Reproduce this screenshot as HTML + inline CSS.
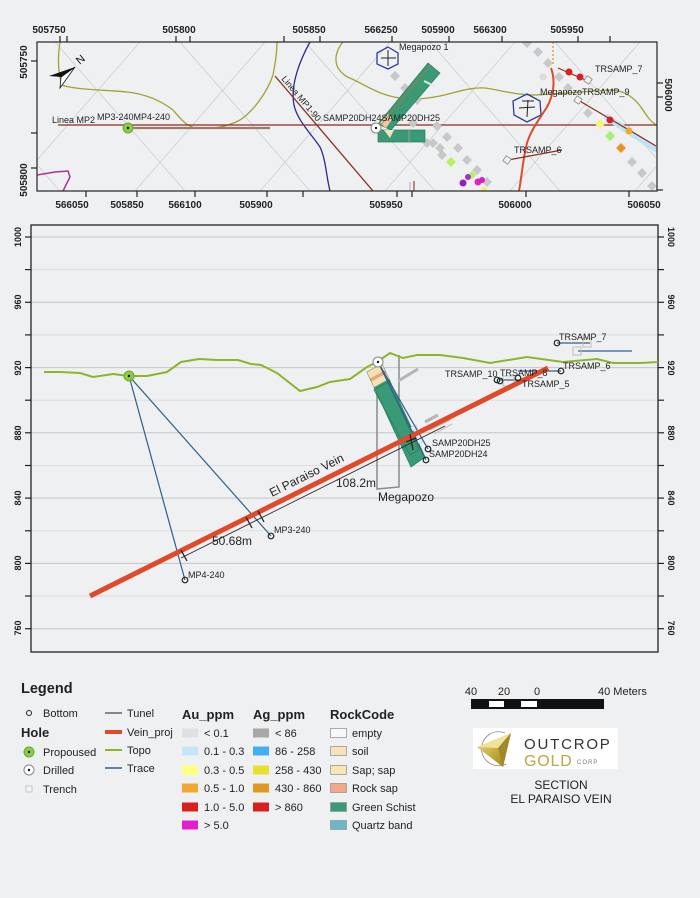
<!DOCTYPE html>
<html><head><meta charset="utf-8"><style>
html,body{margin:0;padding:0;background:#eff0f2;}
svg{display:block;font-family:"Liberation Sans",Arial,sans-serif;}
</style></head><body>
<svg width="700" height="898" viewBox="0 0 700 898" xmlns="http://www.w3.org/2000/svg">
<rect width="700" height="898" fill="#eff0f2"/>
<defs>
<clipPath id="mc"><rect x="37" y="42" width="620" height="149"/></clipPath>
<linearGradient id="gold" x1="0" y1="0" x2="1" y2="1"><stop offset="0" stop-color="#efe08a"/><stop offset="0.5" stop-color="#c9b043"/><stop offset="1" stop-color="#8f7a22"/></linearGradient>
</defs>

<!-- ================= TOP MAP ================= -->
<g clip-path="url(#mc)">
 <g stroke="#c9cacc" stroke-width="0.7" fill="none">
  <line x1="55" y1="42" x2="185" y2="191"/><line x1="180" y1="42" x2="310" y2="191"/>
  <line x1="305" y1="42" x2="435" y2="191"/><line x1="430" y1="42" x2="560" y2="191"/>
  <line x1="555" y1="42" x2="685" y2="191"/><line x1="-70" y1="42" x2="60" y2="191"/>
  <line x1="10" y1="191" x2="140" y2="42"/><line x1="135" y1="191" x2="265" y2="42"/>
  <line x1="260" y1="191" x2="390" y2="42"/><line x1="385" y1="191" x2="515" y2="42"/>
  <line x1="510" y1="191" x2="640" y2="42"/><line x1="635" y1="191" x2="765" y2="42"/>
 </g>
 <!-- contours -->
 <path d="M60,42 C58,55 57,70 62,85 C75,90 110,90 127,92 C145,94 160,100 173,110 C180,118 185,125 195,128 C210,129 225,128 240,120 C255,110 268,90 273,75 C276,60 277,50 277,42" stroke="#a3a133" stroke-width="1.3" fill="none"/>
 <path d="M343,42 C336,50 334,60 338,68 C342,74 346,77 352,79 C365,85 375,92 390,96 C405,100 420,100 440,96 C458,92 470,87 485,88 C500,90 515,95 535,95 C555,94 580,92 610,90 C625,90 635,98 643,110 C648,118 652,123 657,125" stroke="#a3a133" stroke-width="1.3" fill="none"/>
 <path d="M310,42 C300,60 290,85 294,105 C297,120 312,135 320,147 C326,160 326,175 330,191" stroke="#2a2a8f" stroke-width="1.3" fill="none"/>
 <path d="M37,175 L55,172 L68,171 L70,177 L63,191" stroke="#b0309a" stroke-width="1.5" fill="none"/>
 <!-- lines -->
 <line x1="58" y1="125" x2="657" y2="125" stroke="#8b2e1e" stroke-width="1.3"/>
 <line x1="130" y1="128" x2="270" y2="128" stroke="#a07a68" stroke-width="2.2"/>
 <line x1="275" y1="76" x2="373" y2="191" stroke="#8b2e1e" stroke-width="1.3"/>
 <line x1="414" y1="181" x2="414" y2="191" stroke="#a04030" stroke-width="1.2"/>
 <line x1="410" y1="182" x2="410" y2="191" stroke="#bbbbbb" stroke-width="1.2"/>
 <!-- grey diamonds -->
 <g fill="#c8c8c8">
  <rect x="-3.5" y="-3.5" width="7" height="7" transform="translate(395,76) rotate(45)"/>
  <rect x="-3.5" y="-3.5" width="7" height="7" transform="translate(405,88) rotate(45)"/>
  <rect x="-3.5" y="-3.5" width="7" height="7" transform="translate(417,100) rotate(45)"/>
  <rect x="-3.5" y="-3.5" width="7" height="7" transform="translate(427,82) rotate(45)"/>
  <rect x="-3.5" y="-3.5" width="7" height="7" transform="translate(413,123) rotate(45)"/>
  <rect x="-3.5" y="-3.5" width="7" height="7" transform="translate(437,126) rotate(45)"/>
  <rect x="-3.5" y="-3.5" width="7" height="7" transform="translate(427,143) rotate(45)"/>
  <rect x="-3.5" y="-3.5" width="7" height="7" transform="translate(433,143) rotate(45)"/>
  <rect x="-3.5" y="-3.5" width="7" height="7" transform="translate(440,148) rotate(45)"/>
  <rect x="-3.5" y="-3.5" width="7" height="7" transform="translate(447,137) rotate(45)"/>
  <rect x="-3.5" y="-3.5" width="7" height="7" transform="translate(442,155) rotate(45)"/>
  <rect x="-3.5" y="-3.5" width="7" height="7" transform="translate(458,148) rotate(45)"/>
  <rect x="-3.5" y="-3.5" width="7" height="7" transform="translate(467,160) rotate(45)"/>
  <rect x="-3.5" y="-3.5" width="7" height="7" transform="translate(477,170) rotate(45)"/>
  <rect x="-3.5" y="-3.5" width="7" height="7" transform="translate(487,182) rotate(45)"/>
  <rect x="-3.5" y="-3.5" width="7" height="7" transform="translate(527,43) rotate(45)"/>
  <rect x="-3.5" y="-3.5" width="7" height="7" transform="translate(538,52) rotate(45)"/>
  <rect x="-3.5" y="-3.5" width="7" height="7" transform="translate(548,63) rotate(45)"/>
  <rect x="-3.5" y="-3.5" width="7" height="7" transform="translate(559,77) rotate(45)"/>
  <rect x="-3.5" y="-3.5" width="7" height="7" transform="translate(568,88) rotate(45)"/>
  <rect x="-3.5" y="-3.5" width="7" height="7" transform="translate(588,113) rotate(45)"/>
  <rect x="-3.5" y="-3.5" width="7" height="7" transform="translate(632,162) rotate(45)"/>
  <rect x="-3.5" y="-3.5" width="7" height="7" transform="translate(642,173) rotate(45)"/>
  <rect x="-3.5" y="-3.5" width="7" height="7" transform="translate(652,186) rotate(45)"/>
 </g>
 <circle cx="543" cy="77" r="3.5" fill="#dcdcdc"/>
 <!-- core in map -->
 <polygon points="378,124 428,63 440,73 391,130" fill="#3a9a78" stroke="#2d7d60" stroke-width="0.7"/>
 <polygon points="378,130 425,130 425,142 378,142" fill="#3a9a78" stroke="#2d7d60" stroke-width="0.7"/>
 <line x1="409" y1="130" x2="409" y2="142" stroke="#999" stroke-width="1"/>
 <polygon points="380,123 388,114 393,118 386,128" fill="#f2c9a0"/>
 <polygon points="384,130 394,130 390,138" fill="#f4e3b6"/>
 <line x1="424" y1="81" x2="434" y2="86" stroke="#e8e8e8" stroke-width="2"/>
 <line x1="381" y1="125" x2="430" y2="66" stroke="#c07040" stroke-width="0.8"/>
 <!-- hexagons -->
 <polygon points="388,47 398,53 398,64 388,69 377,64 377,53" fill="none" stroke="#2c3d9a" stroke-width="1.3"/>
 <line x1="381" y1="58" x2="396" y2="58" stroke="#222" stroke-width="1"/><line x1="388" y1="50" x2="388" y2="66" stroke="#222" stroke-width="1"/>
 <polygon points="527,94 540,101 541,115 527,122 514,115 513,101" fill="none" stroke="#2c3d9a" stroke-width="1.3"/>
 <line x1="519" y1="108" x2="535" y2="107" stroke="#222" stroke-width="1"/><line x1="528" y1="100" x2="527" y2="117" stroke="#222" stroke-width="1"/><line x1="522" y1="101" x2="534" y2="101" stroke="#222" stroke-width="1"/>
 <!-- river -->
 <path d="M551,68 C556,82 553,96 547,107 C540,118 531,130 527,143 C523,158 522,175 519,191" stroke="#e04a2a" stroke-width="2" fill="none"/>
 <line x1="553" y1="42" x2="553" y2="66" stroke="#f0a030" stroke-width="1.5" stroke-dasharray="2,2"/>
 <!-- TRSAMP_7 -->
 <line x1="558" y1="68" x2="590" y2="82" stroke="#8b2e1e" stroke-width="1.2"/>
 <circle cx="569" cy="72" r="3.5" fill="#d82020"/><circle cx="580" cy="77" r="3.5" fill="#d82020"/>
 <rect x="-3" y="-3" width="6" height="6" transform="translate(588,80) rotate(35)" fill="#f4f4f4" stroke="#888" stroke-width="0.8"/>
 <!-- TRSAMP_9 cluster -->
 <line x1="605" y1="116" x2="657" y2="150" stroke="#bfe3f5" stroke-width="6"/>
 <line x1="578" y1="100" x2="656" y2="146" stroke="#8b2e1e" stroke-width="1.2"/>
 <rect x="-3" y="-3" width="6" height="6" transform="translate(578,100) rotate(35)" fill="#f4f4f4" stroke="#888" stroke-width="0.8"/>
 <rect x="-3.5" y="-3.5" width="7" height="7" transform="translate(600,124) rotate(45)" fill="#f8f27a"/>
 <circle cx="610" cy="120" r="3.5" fill="#d82020"/>
 <rect x="-3.5" y="-3.5" width="7" height="7" transform="translate(610,136) rotate(45)" fill="#a8f070"/>
 <rect x="-3.5" y="-3.5" width="7" height="7" transform="translate(621,148) rotate(45)" fill="#f09020"/>
 <circle cx="629" cy="131" r="3.5" fill="#f0a830"/>
 <!-- TRSAMP_6 -->
 <line x1="508" y1="160" x2="562" y2="150" stroke="#8b2e1e" stroke-width="1.2"/>
 <rect x="-3" y="-3" width="6" height="6" transform="translate(507,160) rotate(35)" fill="#f4f4f4" stroke="#888" stroke-width="0.8"/>
 <!-- colored samples -->
 <rect x="-3.5" y="-3.5" width="7" height="7" transform="translate(451,162) rotate(45)" fill="#b8f060"/>
 <rect x="-3" y="-3" width="6" height="6" transform="translate(472,175) rotate(45)" fill="#b8f060"/>
 <circle cx="463" cy="183" r="3.5" fill="#9020c0"/><circle cx="468" cy="177" r="3" fill="#a030d0"/>
 <circle cx="478" cy="182" r="3.5" fill="#e020c0"/><circle cx="482" cy="180" r="3" fill="#d020c0"/>
 <circle cx="484" cy="190" r="3" fill="#f0f060"/>
 <!-- holes -->
 <circle cx="128" cy="128" r="5" fill="#8ccc40" stroke="#6aa830" stroke-width="1"/><circle cx="128" cy="128" r="1.2" fill="#111"/>
 <circle cx="376" cy="128" r="5" fill="#fff" stroke="#888" stroke-width="1"/><circle cx="376" cy="128" r="1.2" fill="#111"/>
 <!-- north arrow -->
 <polygon points="75,67 49,76 61,77" fill="#111"/>
 <polygon points="75,67 61,77 60,88" fill="#fff" stroke="#111" stroke-width="0.8"/>
 <text x="78" y="64" font-size="11" fill="#111" transform="rotate(-40 80 62)">N</text>
 <!-- labels -->
 <g font-size="9" fill="#222">
  <text x="52" y="123">Linea MP2</text>
  <text x="97" y="120">MP3-240MP4-240</text>
  <text x="323" y="121">SAMP20DH24SAMP20DH25</text>
  <text x="399" y="50">Megapozo 1</text>
  <text x="540" y="95">MegapozoTRSAMP_9</text>
  <text x="595" y="72">TRSAMP_7</text>
  <text x="514" y="153">TRSAMP_6</text>
  <text x="281" y="79" transform="rotate(50 281 79)">Linea MP1-90</text>
 </g>
</g>
<rect x="37" y="42" width="620" height="149" fill="none" stroke="#333" stroke-width="1.3"/>
<!-- map ticks -->
<g stroke="#222" stroke-width="1.2">
 <line x1="60" y1="36" x2="60" y2="42"/><line x1="67" y1="36" x2="67" y2="42"/><line x1="176" y1="36" x2="176" y2="42"/><line x1="190" y1="36" x2="190" y2="42"/><line x1="284" y1="36" x2="284" y2="42"/><line x1="320" y1="36" x2="320" y2="42"/><line x1="392" y1="36" x2="392" y2="42"/><line x1="449" y1="36" x2="449" y2="42"/><line x1="502" y1="36" x2="502" y2="42"/><line x1="578" y1="36" x2="578" y2="42"/><line x1="610" y1="36" x2="610" y2="42"/>
 <line x1="86" y1="191" x2="86" y2="197"/><line x1="137" y1="191" x2="137" y2="197"/><line x1="195" y1="191" x2="195" y2="197"/><line x1="267" y1="191" x2="267" y2="197"/><line x1="303" y1="191" x2="303" y2="197"/><line x1="397" y1="191" x2="397" y2="197"/><line x1="412" y1="191" x2="412" y2="197"/><line x1="526" y1="191" x2="526" y2="197"/><line x1="629" y1="191" x2="629" y2="197"/>
 <line x1="31" y1="61" x2="37" y2="61"/><line x1="31" y1="133" x2="37" y2="133"/><line x1="31" y1="168" x2="37" y2="168"/>
 <line x1="657" y1="83" x2="663" y2="83"/><line x1="657" y1="97" x2="663" y2="97"/><line x1="657" y1="190" x2="663" y2="190"/>
</g>
<g font-size="10" font-weight="bold" fill="#222" text-anchor="middle">
 <text x="49" y="33">505750</text><text x="179" y="33">505800</text><text x="309" y="33">505850</text><text x="381" y="33">566250</text><text x="438" y="33">505900</text><text x="490" y="33">566300</text><text x="567" y="33">505950</text>
 <text x="72" y="208">566050</text><text x="127" y="208">505850</text><text x="185" y="208">566100</text><text x="256" y="208">505900</text><text x="386" y="208">505950</text><text x="515" y="208">506000</text><text x="644" y="208">506050</text>
 <text x="0" y="0" transform="translate(27,62) rotate(-90)">505750</text>
 <text x="0" y="0" transform="translate(27,180) rotate(-90)">505800</text>
 <text x="0" y="0" transform="translate(665,95) rotate(90)">506000</text>
</g>

<!-- ================= SECTION ================= -->
<g stroke-width="1">
 <line x1="31" y1="237" x2="658" y2="237" stroke="#c4c6c8"/>
 <line x1="31" y1="269.6" x2="658" y2="269.6" stroke="#dcdde0"/>
 <line x1="31" y1="302.3" x2="658" y2="302.3" stroke="#c4c6c8"/>
 <line x1="31" y1="334.9" x2="658" y2="334.9" stroke="#dcdde0"/>
 <line x1="31" y1="367.6" x2="658" y2="367.6" stroke="#c4c6c8"/>
 <line x1="31" y1="400.2" x2="658" y2="400.2" stroke="#dcdde0"/>
 <line x1="31" y1="432.8" x2="658" y2="432.8" stroke="#c4c6c8"/>
 <line x1="31" y1="465.5" x2="658" y2="465.5" stroke="#dcdde0"/>
 <line x1="31" y1="498.1" x2="658" y2="498.1" stroke="#c4c6c8"/>
 <line x1="31" y1="530.8" x2="658" y2="530.8" stroke="#dcdde0"/>
 <line x1="31" y1="563.4" x2="658" y2="563.4" stroke="#c4c6c8"/>
 <line x1="31" y1="596" x2="658" y2="596" stroke="#dcdde0"/>
 <line x1="31" y1="628.7" x2="658" y2="628.7" stroke="#c4c6c8"/>
</g>
<rect x="31" y="225" width="627" height="427" fill="none" stroke="#222" stroke-width="1.3"/>
<g stroke="#222" stroke-width="1.2">
 <line x1="25" y1="237" x2="31" y2="237"/><line x1="25" y1="269.6" x2="31" y2="269.6"/><line x1="25" y1="302.3" x2="31" y2="302.3"/><line x1="25" y1="334.9" x2="31" y2="334.9"/><line x1="25" y1="367.6" x2="31" y2="367.6"/><line x1="25" y1="400.2" x2="31" y2="400.2"/><line x1="25" y1="432.8" x2="31" y2="432.8"/><line x1="25" y1="465.5" x2="31" y2="465.5"/><line x1="25" y1="498.1" x2="31" y2="498.1"/><line x1="25" y1="530.8" x2="31" y2="530.8"/><line x1="25" y1="563.4" x2="31" y2="563.4"/><line x1="25" y1="596" x2="31" y2="596"/><line x1="25" y1="628.7" x2="31" y2="628.7"/>
 <line x1="658" y1="237" x2="664" y2="237"/><line x1="658" y1="269.6" x2="664" y2="269.6"/><line x1="658" y1="302.3" x2="664" y2="302.3"/><line x1="658" y1="334.9" x2="664" y2="334.9"/><line x1="658" y1="367.6" x2="664" y2="367.6"/><line x1="658" y1="400.2" x2="664" y2="400.2"/><line x1="658" y1="432.8" x2="664" y2="432.8"/><line x1="658" y1="465.5" x2="664" y2="465.5"/><line x1="658" y1="498.1" x2="664" y2="498.1"/><line x1="658" y1="530.8" x2="664" y2="530.8"/><line x1="658" y1="563.4" x2="664" y2="563.4"/><line x1="658" y1="596" x2="664" y2="596"/><line x1="658" y1="628.7" x2="664" y2="628.7"/>
</g>
<g font-size="9" font-weight="bold" fill="#222" text-anchor="middle">
 <text transform="translate(21,237) rotate(-90)">1000</text>
 <text transform="translate(21,302) rotate(-90)">960</text>
 <text transform="translate(21,368) rotate(-90)">920</text>
 <text transform="translate(21,433) rotate(-90)">880</text>
 <text transform="translate(21,498) rotate(-90)">840</text>
 <text transform="translate(21,563) rotate(-90)">800</text>
 <text transform="translate(21,628) rotate(-90)">760</text>
 <text transform="translate(668,237) rotate(90)">1000</text>
 <text transform="translate(668,302) rotate(90)">960</text>
 <text transform="translate(668,368) rotate(90)">920</text>
 <text transform="translate(668,433) rotate(90)">880</text>
 <text transform="translate(668,498) rotate(90)">840</text>
 <text transform="translate(668,563) rotate(90)">800</text>
 <text transform="translate(668,628) rotate(90)">760</text>
</g>

<!-- megapozo rect -->
<polyline points="377,367 377,489 399,487 399,355" fill="none" stroke="#8a8a8a" stroke-width="1.5"/>
<!-- tunnel grey lines -->
<line x1="398" y1="381" x2="418" y2="369" stroke="#b4b4b4" stroke-width="3"/>
<line x1="425" y1="422" x2="438" y2="415" stroke="#b4b4b4" stroke-width="3"/>
<line x1="430" y1="430" x2="450" y2="420" stroke="#c4c4c4" stroke-width="1.5"/>
<line x1="434" y1="434" x2="452" y2="424" stroke="#c4c4c4" stroke-width="1.2"/>
<!-- core -->
<polygon points="367,372 382,364 425,457 411,467" fill="#3a9a78" stroke="#2d7d60" stroke-width="0.8"/>
<polygon points="374,390 388,382 419,450 410,455" fill="none" stroke="#2d7d60" stroke-width="0.8"/>
<polygon points="367,372 382,364 385,370.5 370.1,378.7" fill="#f6dfb0"/>
<polygon points="370.1,378.7 385,370.5 386.3,373.3 371.4,381.5" fill="#eda47e"/>
<polygon points="371.4,381.5 386.3,373.3 388.9,378.9 374,387.2" fill="#f6e2b4"/>
<rect x="-3" y="-2" width="6" height="4" transform="translate(414,428) rotate(-25)" fill="#dff0f8" stroke="#8cc" stroke-width="0.5"/>
<rect x="-3" y="-2" width="6" height="4" transform="translate(420,441) rotate(-25)" fill="#dff0f8" stroke="#8cc" stroke-width="0.5"/>
<!-- topo -->
<polyline points="44,372 60,372 80,373 93,377 113,374 129,376 147,376 167,372 181,362 199,359 217,360 238,360 251,364 261,365 277,373 300,391 317,387 330,382 350,379 360,372 367,367 377,362 390,353 403,358 417,355 440,355 463,358 490,363 527,357 563,362 597,359 613,363 640,363 658,362" fill="none" stroke="#8db52a" stroke-width="2"/>
<!-- traces -->
<g stroke="#2e5f8a" stroke-width="1.2" fill="none">
 <line x1="129" y1="376" x2="185" y2="580"/>
 <line x1="129" y1="376" x2="271" y2="536"/>
 <line x1="378" y1="362" x2="428" y2="449"/>
 <line x1="378" y1="362" x2="426" y2="460"/>
 <line x1="557" y1="343" x2="590" y2="343"/>
 <line x1="578" y1="351" x2="632" y2="351"/>
 <line x1="518" y1="371" x2="561" y2="371"/>
 <line x1="500" y1="380" x2="520" y2="380"/>
</g>
<g fill="none" stroke="#bbb" stroke-width="1">
 <rect x="583" y="338" width="8" height="9"/>
 <rect x="573" y="347" width="8" height="8"/>
 <rect x="503" y="376" width="11" height="10"/>
</g>
<!-- vein -->
<line x1="90" y1="596" x2="548" y2="368" stroke="#e04a2a" stroke-width="5"/>
<!-- measurement -->
<g stroke="#222" stroke-width="1">
 <line x1="181" y1="558" x2="445" y2="426" stroke-width="0.8"/>
 <line x1="181" y1="550" x2="187" y2="561" stroke-width="1.3"/>
 <line x1="246" y1="517" x2="252" y2="528" stroke-width="1.3"/>
 <line x1="258" y1="511" x2="264" y2="522" stroke-width="1.3"/>
 <line x1="406" y1="442" x2="416" y2="438" stroke-width="1.3"/>
 <line x1="410" y1="434" x2="413" y2="450" stroke-width="1.3"/>
</g>
<!-- bottoms -->
<g fill="none" stroke="#222" stroke-width="1.2">
 <circle cx="185" cy="580" r="2.8"/><circle cx="271" cy="536" r="2.8"/>
 <circle cx="428" cy="449" r="2.8"/><circle cx="426" cy="460" r="2.8"/>
 <circle cx="557" cy="343" r="2.8"/><circle cx="561" cy="371" r="2.8"/>
 <circle cx="497" cy="380" r="2.8"/><circle cx="500" cy="381" r="2.8"/><circle cx="518" cy="378" r="2.8"/>
</g>
<!-- holes -->
<circle cx="129" cy="376" r="5" fill="#8ccc40" stroke="#6aa830" stroke-width="1"/><circle cx="129" cy="376" r="1.2" fill="#111"/>
<circle cx="378" cy="362" r="5" fill="#fff" stroke="#888" stroke-width="1"/><circle cx="378" cy="362" r="1.2" fill="#111"/>
<!-- section labels -->
<g font-size="9" fill="#222">
 <text x="188" y="578">MP4-240</text>
 <text x="274" y="533">MP3-240</text>
 <text x="432" y="446">SAMP20DH25</text>
 <text x="429" y="457">SAMP20DH24</text>
 <text x="559" y="340">TRSAMP_7</text>
 <text x="563" y="369">TRSAMP_6</text>
 <text x="445" y="377">TRSAMP_10</text>
 <text x="500" y="376">TRSAMP_8</text>
 <text x="522" y="387">TRSAMP_5</text>
</g>
<g font-size="12" fill="#222">
 <text x="212" y="545">50.68m</text>
 <text x="336" y="487">108.2m</text>
 <text x="378" y="501">Megapozo</text>
 <text x="272" y="497" transform="rotate(-26.6 272 497)">El Paraiso Vein</text>
</g>

<!-- ================= LEGEND ================= -->
<g fill="#222">
 <text x="21" y="693" font-size="14.5" font-weight="bold">Legend</text>
 <text x="21" y="737" font-size="13" font-weight="bold">Hole</text>
 <g font-size="11">
  <text x="43" y="717">Bottom</text>
  <text x="43" y="756">Propoused</text>
  <text x="43" y="774">Drilled</text>
  <text x="43" y="793">Trench</text>
  <text x="127" y="717">Tunel</text>
  <text x="127" y="736">Vein_proj</text>
  <text x="127" y="754">Topo</text>
  <text x="127" y="772">Trace</text>
 </g>
 <text x="182" y="719" font-size="13" font-weight="bold">Au_ppm</text>
 <text x="253" y="719" font-size="13" font-weight="bold">Ag_ppm</text>
 <text x="330" y="719" font-size="13" font-weight="bold">RockCode</text>
 <g font-size="11">
  <text x="204" y="737">&lt; 0.1</text>
  <text x="204" y="755">0.1 - 0.3</text>
  <text x="204" y="774">0.3 - 0.5</text>
  <text x="204" y="792">0.5 - 1.0</text>
  <text x="204" y="811">1.0 - 5.0</text>
  <text x="204" y="829">&gt; 5.0</text>
  <text x="275" y="737">&lt; 86</text>
  <text x="275" y="755">86 - 258</text>
  <text x="275" y="774">258 - 430</text>
  <text x="275" y="792">430 - 860</text>
  <text x="275" y="811">&gt; 860</text>
  <text x="352" y="737">empty</text>
  <text x="352" y="755">soil</text>
  <text x="352" y="774">Sap; sap</text>
  <text x="352" y="792">Rock sap</text>
  <text x="352" y="811">Green Schist</text>
  <text x="352" y="829">Quartz band</text>
 </g>
</g>
<circle cx="29" cy="713" r="2.5" fill="none" stroke="#222" stroke-width="1"/>
<circle cx="29" cy="752" r="5" fill="#8ccc40" stroke="#6aa830" stroke-width="1"/><circle cx="29" cy="752" r="1.2" fill="#111"/>
<circle cx="29" cy="770" r="5" fill="#fff" stroke="#888" stroke-width="1"/><circle cx="29" cy="770" r="1.2" fill="#111"/>
<rect x="26" y="786" width="6" height="6" fill="#f4f4f4" stroke="#bbb" stroke-width="0.8"/>
<line x1="105" y1="713" x2="122" y2="713" stroke="#888" stroke-width="2"/>
<line x1="105" y1="732" x2="122" y2="732" stroke="#e04a2a" stroke-width="4"/>
<line x1="105" y1="750" x2="122" y2="750" stroke="#8db52a" stroke-width="2"/>
<line x1="105" y1="768" x2="122" y2="768" stroke="#2e5f8a" stroke-width="1.5"/>
<g>
 <rect x="182" y="728.5" width="16" height="9" fill="#e0e0e2"/>
 <rect x="182" y="746.5" width="16" height="9" fill="#c6e6f8"/>
 <rect x="182" y="765.5" width="16" height="9" fill="#ffff80"/>
 <rect x="182" y="783.5" width="16" height="9" fill="#f0a830"/>
 <rect x="182" y="802.5" width="16" height="9" fill="#d82020"/>
 <rect x="182" y="820.5" width="16" height="9" fill="#e020d0"/>
 <rect x="253" y="728.5" width="16" height="9" fill="#a8a8a8"/>
 <rect x="253" y="746.5" width="16" height="9" fill="#40b0f0"/>
 <rect x="253" y="765.5" width="16" height="9" fill="#e8e030"/>
 <rect x="253" y="783.5" width="16" height="9" fill="#e09820"/>
 <rect x="253" y="802.5" width="16" height="9" fill="#d82020"/>
 <rect x="330.5" y="728.5" width="16" height="9" fill="#f8f8f8" stroke="#999" stroke-width="0.8"/>
 <rect x="330.5" y="746.5" width="16" height="9" fill="#f8e2b8" stroke="#999" stroke-width="0.8"/>
 <rect x="330.5" y="765.5" width="16" height="9" fill="#f8e6b4" stroke="#999" stroke-width="0.8"/>
 <rect x="330.5" y="783.5" width="16" height="9" fill="#f0a888" stroke="#999" stroke-width="0.8"/>
 <rect x="330.5" y="802.5" width="16" height="9" fill="#3a9a78" stroke="#999" stroke-width="0.8"/>
 <rect x="330.5" y="820.5" width="16" height="9" fill="#6ab8c8" stroke="#999" stroke-width="0.8"/>
</g>

<!-- scale bar -->
<g font-size="11" fill="#222">
 <text x="471" y="695" text-anchor="middle">40</text>
 <text x="504" y="695" text-anchor="middle">20</text>
 <text x="537" y="695" text-anchor="middle">0</text>
 <text x="598" y="695">40 Meters</text>
</g>
<rect x="471" y="699" width="133" height="10" fill="#111"/>
<rect x="489" y="701" width="15" height="6" fill="#fff"/>
<rect x="521" y="701" width="16" height="6" fill="#fff"/>

<!-- logo -->
<rect x="473" y="728" width="145" height="41" fill="#fff"/>
<path d="M505,733 A17,17 0 1 0 506,764" fill="none" stroke="#888" stroke-width="0.8"/>
<polygon points="477,747 511,733 503,767" fill="url(#gold)"/>
<polygon points="477,747 511,733 498,748" fill="#f0e29a"/>
<polygon points="498,748 511,733 503,767" fill="#9e8a2a"/>
<text x="524" y="749" font-size="15" letter-spacing="1.8" fill="#333">OUTCROP</text>
<text x="524" y="766" font-size="16" letter-spacing="0.8" fill="#b8a848">GOLD</text>
<text x="577" y="764" font-size="6" letter-spacing="1" fill="#777">CORP</text>
<text x="561" y="789" font-size="12" fill="#222" text-anchor="middle">SECTION</text>
<text x="561" y="803" font-size="12" fill="#222" text-anchor="middle">EL PARAISO VEIN</text>
</svg>
</body></html>
